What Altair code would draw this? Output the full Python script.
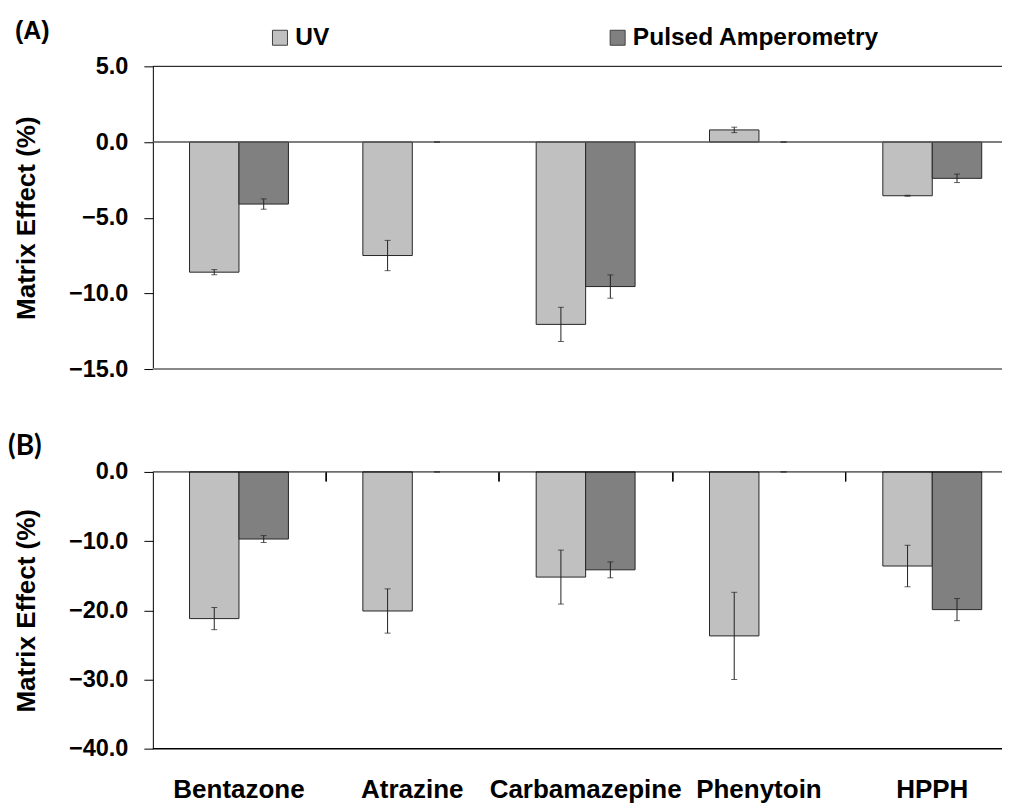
import altair as alt
import pandas as pd

compounds = ["Bentazone", "Atrazine", "Carbamazepine", "Phenytoin", "HPPH"]
methods = ["UV", "Pulsed Amperometry"]

# Panel (A)
a_uv = [-8.6, -7.5, -12.05, 0.8, -3.55]
a_uv_err = [0.17, 1.0, 1.13, 0.18, 0.03]
a_pa = [-4.1, 0.0, -9.55, 0.0, -2.4]
a_pa_err = [0.34, 0.0, 0.77, 0.0, 0.28]

# Panel (B)
b_uv = [-21.2, -20.1, -15.2, -23.7, -13.6]
b_uv_err = [1.6, 3.2, 3.9, 6.3, 3.0]
b_pa = [-9.7, 0.0, -14.15, 0.0, -19.9]
b_pa_err = [0.5, 0.0, 1.15, 0.0, 1.6]

a_ticks = [-15, -10, -5, 0, 5]
b_ticks = [-40, -30, -20, -10, 0]


def frame(uv, uv_err, pa, pa_err):
    rows = []
    for i, c in enumerate(compounds):
        for m, v, e in ((methods[0], uv[i], uv_err[i]), (methods[1], pa[i], pa_err[i])):
            rows.append({"compound": c, "method": m, "value": v, "lo": v - e, "hi": v + e})
    return pd.DataFrame(rows)


FONT = "Liberation Sans"
W = 850
HA = 303
HB = 277
P_INNER = 0.4294

x_scale = alt.Scale(domain=compounds, paddingInner=P_INNER, paddingOuter=0.1643,
                    align=0.644, round=False)
xo_scale = alt.Scale(domain=methods, paddingInner=0, paddingOuter=0, round=False)
color_scale = alt.Scale(domain=methods, range=["#c0c0c0", "#808080"])
# pixel step of the category scale, used to put the separator ticks midway
STEP = W / (len(compounds) - P_INNER + 2 * 0.1643)


def panel(df, ydomain, yticks, height, title, legend, label_axis, tick_axis, lines):
    xo = alt.XOffset("method:N", scale=xo_scale, sort=methods)
    y_axis = alt.Axis(values=yticks, format=".1f", title="Matrix Effect (%)",
                      labelFont=FONT, labelFontSize=23.5, labelFontWeight="bold",
                      labelColor="black", labelPadding=16, tickSize=9,
                      tickColor="black", domainColor="black", grid=False,
                      titleFont=FONT, titleFontSize=26, titleFontWeight="bold",
                      titleColor="black", titlePadding=29)
    yscale = alt.Scale(domain=ydomain, nice=False, zero=False)
    base = alt.Chart(df)
    line_layers = []
    for val, col, sw in lines:
        line_layers.append(
            alt.Chart(pd.DataFrame({"v": [val]})).mark_rule(color=col, strokeWidth=sw)
            .encode(y=alt.Y("v:Q", scale=yscale))
        )
    bars = base.mark_bar(stroke="#262626", strokeWidth=1).encode(
        x=alt.X("compound:N", scale=x_scale, axis=label_axis, title=None, sort=compounds),
        xOffset=xo,
        y=alt.Y("value:Q", scale=yscale, axis=y_axis),
        y2=alt.datum(0),
        color=alt.Color("method:N", scale=color_scale, legend=legend, sort=methods),
        strokeOpacity=alt.condition("datum.value == 0", alt.value(0), alt.value(1)),
    )
    x2 = alt.X("compound:N", scale=x_scale, axis=tick_axis, title=None, sort=compounds)
    err = base.mark_rule(color="#222222", strokeWidth=1).encode(
        x=x2, xOffset=xo, y=alt.Y("lo:Q", scale=yscale), y2="hi:Q")
    cap_lo = base.mark_tick(color="#222222", thickness=1, size=6).encode(
        x=x2, xOffset=xo, y=alt.Y("lo:Q", scale=yscale))
    cap_hi = base.mark_tick(color="#222222", thickness=1, size=6).encode(
        x=x2, xOffset=xo, y=alt.Y("hi:Q", scale=yscale))
    layers = [bars] + line_layers + [err, cap_lo, cap_hi]
    return alt.layer(*layers).resolve_axis(x="independent").properties(
        width=W, height=height, title=title)


legend_a = alt.Legend(orient="none", legendX=115, legendY=-41, direction="horizontal",
                      columns=2, columnPadding=276, title=None, symbolType="square",
                      symbolSize=225, symbolStrokeColor="#404040", symbolStrokeWidth=1,
                      symbolOpacity=1, labelFont=FONT, labelFontSize=24.5,
                      labelFontWeight="bold", labelColor="black", labelOffset=3,
                      labelLimit=0, padding=0)

label_axis_b = alt.Axis(orient="bottom", ticks=False, domain=False,
                        labelPadding=28, labelFont=FONT, labelFontSize=26,
                        labelFontWeight="bold", labelColor="black", labelAngle=0,
                        labelLimit=0)
tick_axis_b = alt.Axis(orient="bottom", offset=-HB, values=compounds[:4],
                       bandPosition=1, tickExtra=False,
                       tickOffset=STEP * P_INNER / 2,
                       ticks=True, tickSize=9, tickColor="black",
                       tickWidth=1, domain=False, labels=False)

title_a = alt.TitleParams(text="(A)", anchor="start", frame="group", dx=-138,
                          font=FONT, fontSize=25, fontWeight="bold", color="black",
                          offset=-19)
title_b = alt.TitleParams(text="(B)", anchor="start", frame="group", dx=-145,
                          font="Lato", fontSize=28, fontWeight="bold", color="black",
                          offset=-1)

chart_a = panel(frame(a_uv, a_uv_err, a_pa, a_pa_err), [-15, 5], a_ticks, HA, title_a,
                legend_a, None, None,
                [(0, "#555555", 1.5), (5, "#000000", 1), (-15, "#888888", 2)])
chart_b = panel(frame(b_uv, b_uv_err, b_pa, b_pa_err), [-40, 0], b_ticks, HB, title_b,
                None, label_axis_b, tick_axis_b,
                [(0, "#000000", 1), (-40, "#000000", 1.5)])

chart = alt.vconcat(chart_a, chart_b, spacing=52).resolve_legend(
    color="independent").properties(
    padding={"left": 0, "top": 11, "right": 0, "bottom": 0}
).configure_view(stroke=None)

chart.save("out.html", embed_options={"renderer": "svg", "actions": False})
